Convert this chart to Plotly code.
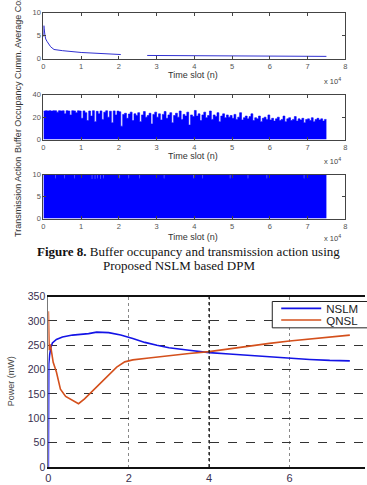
import plotly.graph_objects as go

W, H = 367, 485

# ---------------- data ----------------
# panel 1: cumulative average cost (x in units of 10^4 time slots)
cum_x = [0.0, 0.01, 0.02, 0.04, 0.06, 0.1, 0.19, 0.28, 0.5, 1.0, 1.5, 2.05, None, 2.75, 4.0, 4.0, 7.5]
cum_y = [4.8, 7.2, 6.5, 5.1, 4.3, 3.7, 2.6, 2.0, 1.75, 1.35, 1.1, 0.9, None, 0.7, 0.65, 0.55, 0.5]

# panel 2: buffer occupancy, one value per 500 slots (0.05 x 10^4)
buffer_step = 0.05
buffer_occ = [
    25.5, 25.8, 25.6, 25.8, 25.4, 25.8, 25.7, 24.5, 25.8, 25.6,
    25.7, 23.0, 25.8, 25.5, 22.0, 25.8, 25.6, 24.0, 25.7, 25.5,
    19.0, 25.6, 24.0, 17.0, 25.5, 21.0, 25.8, 16.0, 25.2, 23.0,
    25.6, 18.0, 24.5, 25.7, 20.0, 25.3, 15.0, 25.6, 22.0, 25.4,
    24.8, 12.0, 22.5, 23.5, 19.0, 22.8, 24.5, 17.0, 23.0, 21.5,
    24.0, 16.0, 22.0, 25.0, 20.0, 21.5, 23.5, 14.0, 22.5, 24.5,
    20.0, 23.0, 17.5, 22.5, 25.0, 19.0, 22.0, 24.0, 15.0, 21.5,
    23.5, 20.0, 25.5, 18.0, 22.5, 21.0, 24.5, 13.0, 22.0, 20.5,
    26.0, 21.0, 23.0, 17.0, 22.0, 24.5, 19.5, 21.5, 25.5, 18.0,
    22.0, 20.5, 24.0, 16.0, 21.0, 23.0, 19.5, 22.0, 20.0, 21.5,
    19.0, 22.5, 18.0, 20.0, 24.0, 17.5, 19.5, 21.0, 18.5, 20.5,
    23.0, 17.0, 19.5, 18.5, 21.0, 16.0, 19.0, 20.0, 18.0, 22.0,
    17.5, 19.0, 16.5, 18.5, 20.0, 17.0, 18.0, 21.0, 16.0, 18.5,
    19.5, 17.0, 18.0, 20.5, 16.5, 18.5, 17.5, 19.0, 15.0, 18.0,
    18.5, 17.0, 19.5, 16.0, 18.0, 19.0, 17.5, 18.5, 16.5, 18.0,
]

# panel 3: transmission action (step values)
action_x = [0.0, 0.31, 0.33, 0.55, 0.57, 0.81, 0.83, 1.28, 1.30, 1.36, 1.38, 1.42, 1.44,
            1.50, 1.52, 1.58, 1.60, 2.01, 2.03, 2.25, 2.27, 2.54, 2.56, 3.19, 3.21,
            3.97, 3.99, 4.21, 4.23, 4.94, 4.96, 5.41, 5.43, 5.91, 5.93, 6.90, 6.92, 7.5]
action_y = [10, 9.2, 10, 9.2, 10, 9.2, 10, 9.0, 10, 9.0, 10, 9.2, 10,
            9.0, 10, 9.2, 10, 9.2, 10, 9.2, 10, 9.2, 10, 9.2, 10,
            9.2, 10, 9.2, 10, 9.2, 10, 9.2, 10, 9.2, 10, 9.2, 10, 10]

# bottom chart: power (mW) vs time slot (x 10^4)
nslm_x = [0, 0.005, 0.01, 0.03, 0.06, 0.1, 0.2, 0.35, 0.6, 1.0, 1.2, 1.5, 1.8, 2.1,
          2.4, 2.7, 3.0, 3.5, 4.0, 4.5, 5.0, 5.5, 6.0, 6.5, 7.0, 7.5]
nslm_y = [0, 100, 212, 230, 245, 255, 262, 267, 271, 274, 277, 276, 271, 264,
          256, 250, 245, 240, 235, 232, 229, 226, 224, 221, 219, 218]
qnsl_x = [0, 0.005, 0.02, 0.05, 0.08, 0.12, 0.2, 0.3, 0.43, 0.6, 0.75, 0.9, 1.05,
          1.3, 1.5, 1.7, 1.9, 2.1, 2.5, 3.0, 3.5, 4.0, 4.5, 5.0, 5.5, 6.0, 6.5, 7.0, 7.5]
qnsl_y = [320, 250, 240, 252, 235, 215, 195, 160, 145, 137, 130, 140, 152,
          172, 189, 205, 216, 220, 224, 229, 233, 237, 243, 249, 254, 259, 263, 267, 271]

top_ticks = [0, 1, 2, 3, 4, 5, 6, 7, 8]
power_xticks = [0, 2, 4, 6]
power_yticks = [0, 50, 100, 150, 200, 250, 300, 350]

# ---------------- figure ----------------
def py(p):  # pixel row -> paper y
    return 1 - p / H

def px(p):
    return p / W

buf_x = [i * buffer_step for i in range(len(buffer_occ))] + [7.5]
buf_y = buffer_occ + [buffer_occ[-1]]

fig = go.Figure()
fig.add_trace(go.Scatter(x=cum_x, y=cum_y, mode='lines', line=dict(color='#3030d0', width=1),
                         xaxis='x', yaxis='y', showlegend=False, connectgaps=False))
fig.add_trace(go.Scatter(x=buf_x, y=buf_y, mode='lines', line=dict(color='#0000ff', width=0.6, shape='hv'),
                         fill='tozeroy', fillcolor='#0000ff', xaxis='x2', yaxis='y2', showlegend=False))
fig.add_trace(go.Scatter(x=action_x, y=action_y, mode='lines', line=dict(color='#0000ff', width=0.6, shape='hv'),
                         fill='tozeroy', fillcolor='#0000ff', xaxis='x3', yaxis='y3', showlegend=False))
fig.add_trace(go.Scatter(x=nslm_x, y=nslm_y, mode='lines', name='NSLM', line=dict(color='#1414e6', width=1.6),
                         xaxis='x4', yaxis='y4', legend='legend'))
fig.add_trace(go.Scatter(x=qnsl_x, y=qnsl_y, mode='lines', name='QNSL', line=dict(color='#d4501c', width=1.6),
                         xaxis='x4', yaxis='y4', legend='legend2'))

sans = 'Liberation Sans, Arial, sans-serif'
tickfont_small = dict(family=sans, size=7.5, color='#555555')

def top_x(anchor):
    return dict(domain=[px(41), px(347)], range=[0, 8], tickvals=top_ticks, ticks='inside', ticklen=3,
                tickcolor='#444', showline=True, linecolor='#444', linewidth=1, mirror='ticks',
                showgrid=False, zeroline=False, tickfont=tickfont_small, anchor=anchor)

def top_y(dom, rng, tv, anchor):
    return dict(domain=dom, range=rng, tickvals=tv, ticks='inside', ticklen=3, tickcolor='#444',
                showline=True, linecolor='#444', linewidth=1, mirror='ticks', showgrid=False,
                zeroline=False, tickfont=tickfont_small, anchor=anchor)

layout = dict(
    width=W, height=H, margin=dict(l=0, r=0, t=0, b=0),
    paper_bgcolor='white', plot_bgcolor='white',
    xaxis=top_x('y'),
    yaxis=top_y([py(54), py(7)], [0, 10], [0, 5, 10], 'x'),
    xaxis2=top_x('y2'),
    yaxis2=top_y([py(137), py(91)], [0, 40], [0, 20, 40], 'x2'),
    xaxis3=top_x('y3'),
    yaxis3=top_y([py(218), py(173)], [0, 10], [0, 5, 10], 'x3'),
    xaxis4=dict(domain=[px(46), 1], range=[0, 321 / 40.75], tickvals=power_xticks, anchor='y4',
                showline=True, linecolor='#111', linewidth=1.5, mirror=True, ticks='',
                showgrid=True, gridcolor='#888', griddash='dot', gridwidth=1.2, zeroline=False,
                tickfont=dict(family=sans, size=11, color='#3a3050')),
    yaxis4=dict(domain=[py(472.7), py(298)], range=[0, 350], tickvals=power_yticks, anchor='x4',
                showline=True, linecolor='#777', linewidth=1, ticks='', showgrid=True,
                gridcolor='#333', griddash='dash', gridwidth=1, zeroline=False,
                tickfont=dict(family=sans, size=10.5, color='#3a3050')),
    legend=dict(x=px(277), y=py(310), xanchor='left', yanchor='middle', bgcolor='rgba(0,0,0,0)',
                borderwidth=0, font=dict(family=sans, size=11.5, color='#222'), itemwidth=40),
    legend2=dict(x=px(277), y=py(322), xanchor='left', yanchor='middle', bgcolor='rgba(0,0,0,0)',
                 borderwidth=0, font=dict(family=sans, size=11.5, color='#222'), itemwidth=40),
    shapes=[
        dict(type='line', xref='x4', yref='y4', x0=4, x1=4, y0=0, y1=350,
             line=dict(color='#222', width=1.5, dash='dot'), layer='above'),
        dict(type='rect', xref='paper', yref='paper', x0=px(273), x1=px(380), y0=py(330), y1=py(303),
             line=dict(color='#222', width=1), fillcolor='white', layer='above'),
    ],
)

ann = []
lab = dict(family=sans, size=9, color='#333')
for yy in [71, 154, 237]:
    ann.append(dict(text='Time slot (n)', x=px(193), y=py(yy), xref='paper', yref='paper',
                    showarrow=False, font=lab, xanchor='center', yanchor='middle'))
for yy in [77, 159, 238]:
    ann.append(dict(text='x 10<sup>4</sup>', x=px(334), y=py(yy), xref='paper', yref='paper',
                    showarrow=False, font=dict(family=sans, size=7.5, color='#444'),
                    xanchor='center', yanchor='middle'))
for txt, yy in [('Cumm. Average Cost', 31), ('Buffer Occupancy', 114), ('Transmission Action', 196)]:
    ann.append(dict(text=txt, x=px(15), y=py(yy), xref='paper', yref='paper', textangle=-90,
                    showarrow=False, font=lab, xanchor='center', yanchor='middle'))
ann.append(dict(text='Power (mW)', x=px(9), y=py(385), xref='paper', yref='paper', textangle=-90,
                showarrow=False, font=dict(family=sans, size=9, color='#444'),
                xanchor='center', yanchor='middle'))
serif = 'Liberation Serif, Times New Roman, serif'
ann.append(dict(text='<b>Figure 8.</b> Buffer occupancy and transmission action using',
                x=px(188), y=py(252), xref='paper', yref='paper', showarrow=False,
                font=dict(family=serif, size=13, color='#111'), xanchor='center', yanchor='middle'))
ann.append(dict(text='Proposed NSLM based DPM',
                x=px(178), y=py(266), xref='paper', yref='paper', showarrow=False,
                font=dict(family=serif, size=13, color='#111'), xanchor='center', yanchor='middle'))
layout['annotations'] = ann

fig.update_layout(**layout)
fig.write_html('out.html')
